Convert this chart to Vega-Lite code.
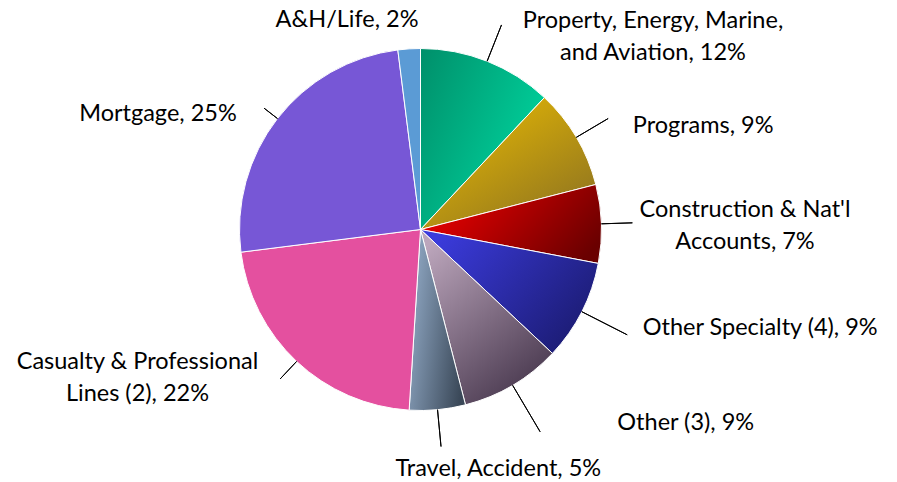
{
  "$schema": "https://vega.github.io/schema/vega-lite/v6.json",
  "width": 841,
  "height": 459,
  "autosize": {"type": "none"},
  "padding": {"left": 0, "top": 0, "right": 56, "bottom": 23},
  "background": "white",
  "view": {"stroke": null},
  "data": {
    "values": [
      {"i": 1, "segment": "Property, Energy, Marine, and Aviation", "label": "Property, Energy, Marine,\nand Aviation, 12%", "pct": 12},
      {"i": 2, "segment": "Programs", "label": "Programs, 9%", "pct": 9},
      {"i": 3, "segment": "Construction & Nat'l Accounts", "label": "Construction & Nat'l\nAccounts, 7%", "pct": 7},
      {"i": 4, "segment": "Other Specialty (4)", "label": "Other Specialty (4), 9%", "pct": 9},
      {"i": 5, "segment": "Other (3)", "label": "Other (3), 9%", "pct": 9},
      {"i": 6, "segment": "Travel, Accident", "label": "Travel, Accident, 5%", "pct": 5},
      {"i": 7, "segment": "Casualty & Professional Lines (2)", "label": "Casualty & Professional\nLines (2), 22%", "pct": 22},
      {"i": 8, "segment": "Mortgage", "label": "Mortgage, 25%", "pct": 25},
      {"i": 9, "segment": "A&H/Life", "label": "A&H/Life, 2%", "pct": 2}
    ]
  },
  "encoding": {
    "theta": {"field": "pct", "type": "quantitative", "stack": true, "scale": {"domain": [0, 100]}},
    "order": {"field": "i", "type": "quantitative"}
  },
  "layer": [
    {
      "mark": {
        "type": "arc",
        "outerRadius": 181,
        "stroke": "white",
        "strokeWidth": 1,
        "fill": {"expr": "[null, {gradient:'linear',x1:0,y1:0,x2:1,y2:0.6,stops:[{offset:0,color:'#008f6a'},{offset:1,color:'#00d49e'}]}, {gradient:'linear',x1:0,y1:0,x2:0.8,y2:1,stops:[{offset:0,color:'#f0c000'},{offset:1,color:'#8f7420'}]}, {gradient:'linear',x1:0,y1:0.3,x2:1,y2:0.7,stops:[{offset:0,color:'#ee0000'},{offset:1,color:'#6a0000'}]}, {gradient:'linear',x1:0,y1:0.2,x2:1,y2:0.8,stops:[{offset:0,color:'#3b3bdc'},{offset:1,color:'#1a1a6e'}]}, {gradient:'linear',x1:0.2,y1:0,x2:0.8,y2:1,stops:[{offset:0,color:'#bca6bc'},{offset:1,color:'#44344a'}]}, {gradient:'linear',x1:0,y1:0.3,x2:1,y2:0.7,stops:[{offset:0,color:'#90a8c4'},{offset:1,color:'#3a4858'}]}, '#e4509f', '#7757d6', '#5b9bd5'][datum.i]"}
      },
      "encoding": {
        "detail": {"field": "segment", "type": "nominal"}
      }
    },
    {
      "mark": {
        "type": "arc",
        "innerRadius": 181,
        "outerRadius": {"expr": "[0,220,218,212,232,235,218,205,198,181][datum.i]"},
        "padAngle": 3,
        "filled": false,
        "stroke": "#000000",
        "strokeWidth": 1,
        "strokeOpacity": {"expr": "datum.i == 9 ? 0 : 1"}
      },
      "encoding": {
        "detail": {"field": "segment", "type": "nominal"}
      }
    },
    {
      "mark": {
        "type": "text",
        "radius": {"expr": "[0,220,218,212,232,235,218,205,198,200][datum.i]"},
        "dx": {"expr": "[0,151.5,24.6,112.6,15.5,77.2,57.3,-142.7,-27.3,-60.9][datum.i]"},
        "dy": {"expr": "[0,3,14.8,-6.1,0.2,-1.8,29.5,-9.6,12.6,-3.2][datum.i]"},
        "align": {"expr": "indexof([1,3,6,7,9], datum.i) >= 0 ? 'center' : (datum.i == 8 ? 'right' : 'left')"},
        "baseline": "alphabetic",
        "lineBreak": "\n",
        "lineHeight": 32,
        "font": "Lato",
        "fontSize": 23.5,
        "color": "#000000"
      },
      "encoding": {
        "detail": {"field": "segment", "type": "nominal"},
        "text": {"field": "label", "type": "nominal"}
      }
    }
  ]
}
